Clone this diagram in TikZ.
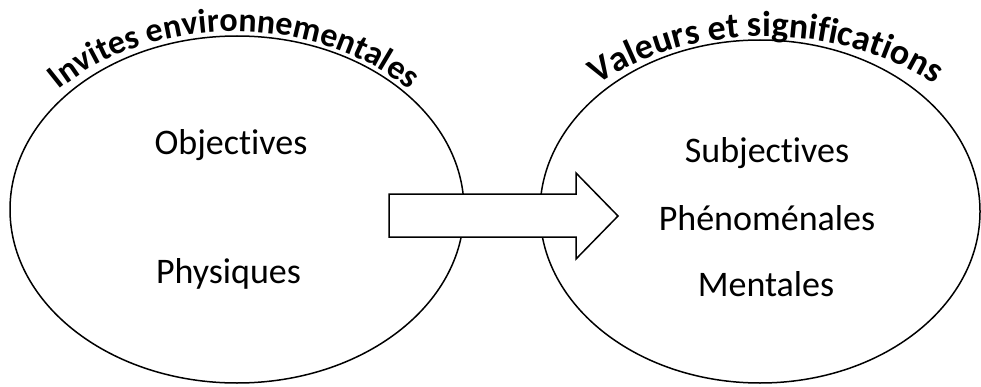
\documentclass[tikz,border=0pt]{standalone}
\usepackage{fontspec}
\setmainfont{Carlito}[Ligatures={NoCommon}]
\usetikzlibrary{shapes.geometric,decorations.text}
\begin{document}
\begin{tikzpicture}[x=1pt,y=1pt,
  bubble/.style={draw, line width=1.5pt, ellipse, inner sep=0pt},
  bodytext/.style={font=\fontsize{36}{43}\selectfont, anchor=base, inner sep=0pt},
  blockarrow/.style={draw, line width=1.5pt, fill=white, line join=miter},
  arctitle/.style 2 args={decorate, decoration={text along path, text align=center,
     text={|\fontsize{#1}{43}\selectfont\bfseries|#2}}}
]
\useasboundingbox (0,0) rectangle (981,386);
\node[bubble, minimum width=454pt, minimum height=347pt] (L) at (237,176.5) {};
\node[bubble, minimum width=440pt, minimum height=343pt] (R) at (760,174.5) {};
\path[arctitle={34}{Invites environnementales}] (234,176.5) ++(165:236 and 178)
  arc[start angle=165, end angle=15, x radius=236, y radius=178];
\path[arctitle={36}{Valeurs et significations}] (766,174.5) ++(165:245 and 175)
  arc[start angle=165, end angle=15, x radius=245, y radius=175];
\node[bodytext] (obj) at (231,232) {Objectives};
\node[bodytext] (phy) at (228.5,103) {Physiques};
\node[bodytext] (sub) at (767,223) {Subjectives};
\node[bodytext] (phe) at (767,156) {Phénoménales};
\node[bodytext] (men) at (766,90) {Mentales};
\draw[blockarrow] (389,192) -- (576,192) -- (576,213) -- (618,170) -- (576,127)
  -- (576,149) -- (389,149) -- cycle;
\end{tikzpicture}
\end{document}
